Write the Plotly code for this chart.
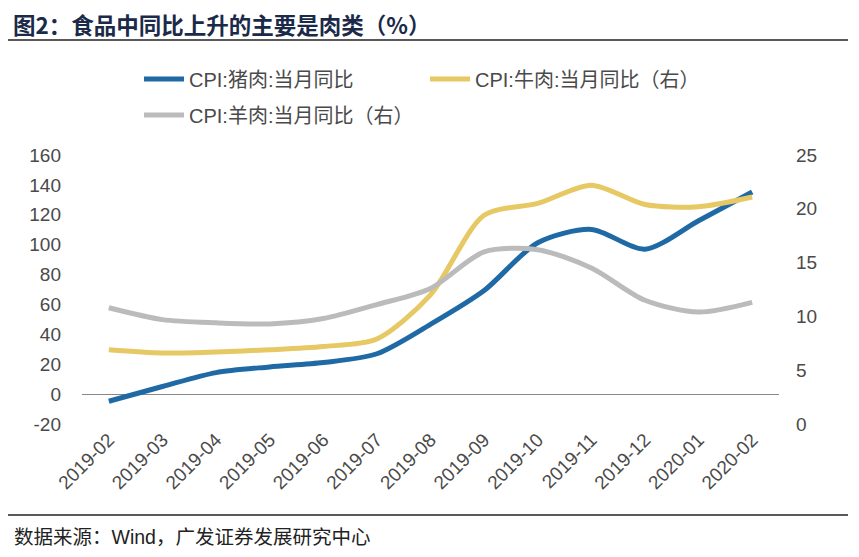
import plotly.graph_objects as go

months = ["2019-02", "2019-03", "2019-04", "2019-05", "2019-06", "2019-07", "2019-08",
          "2019-09", "2019-10", "2019-11", "2019-12", "2020-01", "2020-02"]
pork = [-4.8, 5.1, 14.4, 18.2, 21.1, 27.0, 46.7, 69.3, 101.3, 110.2, 97.0, 116.0, 135.2]
beef = [6.9, 6.6, 6.7, 6.9, 7.2, 7.9, 12.0, 19.4, 20.5, 22.2, 20.4, 20.2, 21.1]
mutton = [10.8, 9.7, 9.4, 9.3, 9.8, 11.1, 12.6, 16.0, 16.2, 14.5, 11.5, 10.4, 11.3]

left_ticks = [-20, 0, 20, 40, 60, 80, 100, 120, 140, 160]
left_labels = ["-20", "0", "20", "40", "60", "80", "100", "120", "140", "160"]
right_ticks = [0, 5, 10, 15, 20, 25]

W, H = 851, 549
L, R, T, B = 74, 80, 147, 133
PW, PH = W - L - R, H - T - B


def px(x):
    return (x - L) / PW


def py(y):
    return (H - B - y) / PH


TICK_FONT = dict(family="Liberation Sans, Arial", size=19, color="#4a4a4a")
CJK = "Liberation Sans, Noto Sans CJK SC"

fig = go.Figure()
fig.add_trace(go.Scatter(x=months, y=pork, name="CPI:猪肉:当月同比", mode="lines", legend="legend",
                         line=dict(color="#1F6AA5", width=5, shape="spline", smoothing=0.8)))
fig.add_trace(go.Scatter(x=months, y=beef, name="CPI:牛肉:当月同比（右）", mode="lines", yaxis="y2",
                         legend="legend",
                         line=dict(color="#E6C864", width=5, shape="spline", smoothing=0.8)))
fig.add_trace(go.Scatter(x=months, y=mutton, name="CPI:羊肉:当月同比（右）", mode="lines", yaxis="y2",
                         legend="legend2",
                         line=dict(color="#BBBBBB", width=5, shape="spline", smoothing=0.8)))

leg_common = dict(orientation="h", xanchor="left", yanchor="middle",
                  font=dict(family=CJK, size=20, color="#4a4a4a"),
                  bgcolor="rgba(0,0,0,0)", itemwidth=40)

fig.update_layout(
    width=W, height=H,
    paper_bgcolor="white", plot_bgcolor="white",
    margin=dict(l=L, r=R, t=T, b=B),
    showlegend=True,
    legend=dict(**leg_common, x=px(131), y=py(71), entrywidth=231, entrywidthmode="pixels"),
    legend2=dict(**leg_common, x=px(131), y=py(107)),
    xaxis=dict(type="category", tickangle=-45, tickfont=TICK_FONT, showgrid=False,
               showline=False, ticks="", range=[-0.5, 12.5]),
    yaxis=dict(range=[-20, 160], tickvals=left_ticks, ticktext=left_labels, tickfont=TICK_FONT,
               showgrid=False, zeroline=True, zerolinecolor="#888888", zerolinewidth=1, ticks="",
               showline=False, ticklabelstandoff=20),
    yaxis2=dict(range=[0, 25], tickvals=right_ticks, tickfont=TICK_FONT, overlaying="y", side="right",
                showgrid=False, zeroline=False, ticks="", showline=False, ticklabelstandoff=16),
)

fig.add_annotation(text="<b>图2：食品中同比上升的主要是肉类（%）</b>", xref="paper", yref="paper",
                   x=px(4), y=py(16), xanchor="left", yanchor="middle", showarrow=False, borderpad=0,
                   font=dict(family="Noto Sans CJK SC", size=22.5, color="#1B2A48"))
fig.add_annotation(text="数据来源：Wind，广发证券发展研究中心", xref="paper", yref="paper",
                   x=px(4), y=py(529), xanchor="left", yanchor="middle", showarrow=False,
                   font=dict(family=CJK, size=19.5, color="#222222"))
fig.add_shape(type="line", xref="paper", yref="paper", x0=px(-8), x1=px(840),
              y0=py(32), y1=py(32), line=dict(color="#222222", width=1.5))
fig.add_shape(type="line", xref="paper", yref="paper", x0=px(-8), x1=px(840),
              y0=py(507), y1=py(507), line=dict(color="#222222", width=1.5))

fig.write_html("out.html")
